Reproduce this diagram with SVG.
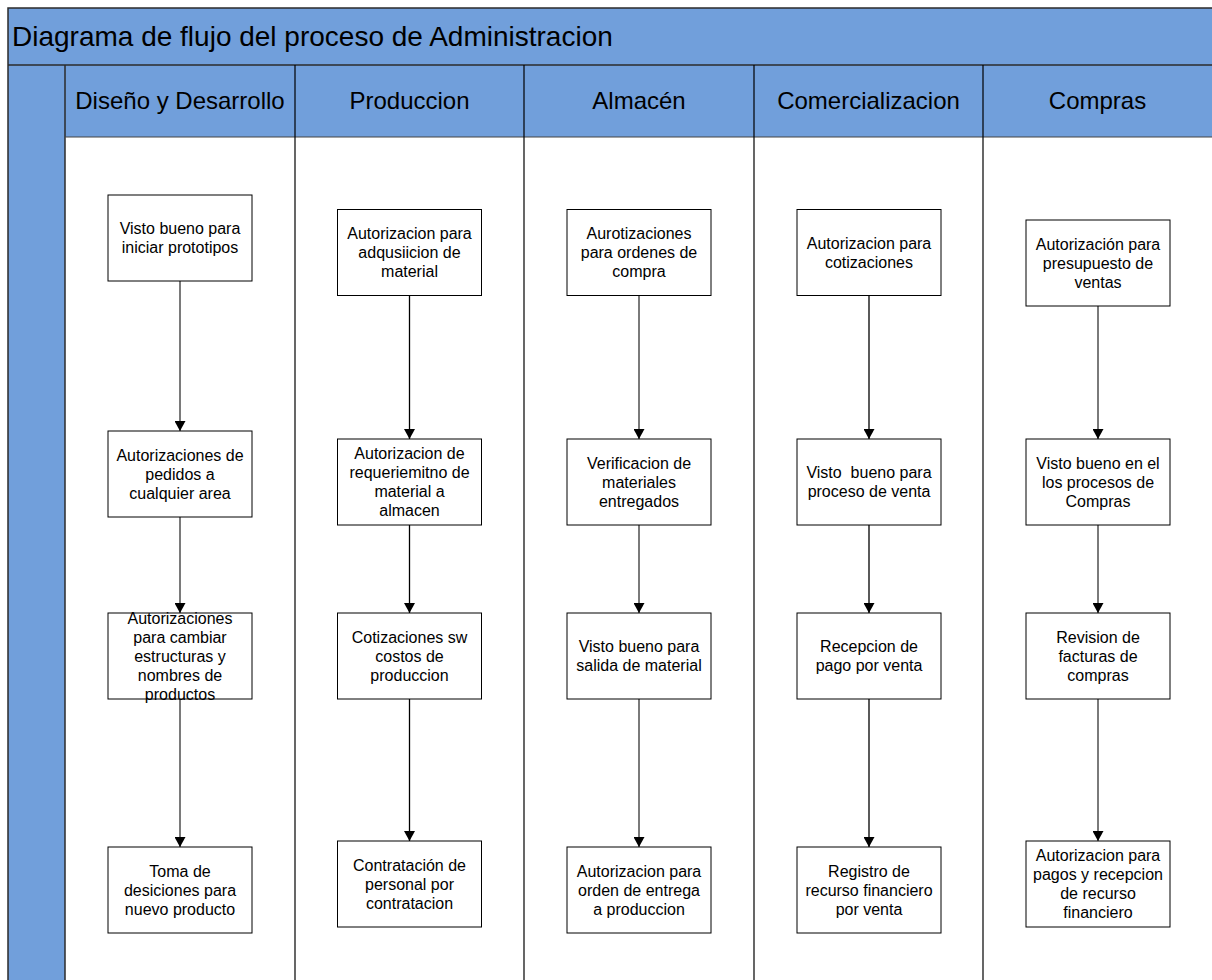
<svg xmlns="http://www.w3.org/2000/svg" width="1212" height="980" viewBox="0 0 1212 980">
<style>
  .band { fill: #719fdb; }
  .frame { fill: none; stroke: #2b2b2b; stroke-width: 1.5; }
  .div { stroke: #000; stroke-width: 1.2; fill: none; }
  .title { font-family: "Liberation Sans", Arial, sans-serif; font-size: 28px; fill: #000; }
  .hdr { font-family: "Liberation Sans", Arial, sans-serif; font-size: 24px; fill: #000; text-anchor: middle; }
  .box rect { fill: #fff; stroke: #000; stroke-width: 1; }
  .box text { font-family: "Liberation Sans", Arial, sans-serif; font-size: 16px; fill: #000; text-anchor: middle; white-space: pre; }
  .gray { stroke: #7a7a7a; stroke-width: 2; fill: none; }
  .blk { stroke: #000; stroke-width: 1.3; fill: none; }
</style>
<defs>
  <marker id="ah" viewBox="0 0 10 11" refX="10" refY="5.5" markerWidth="10" markerHeight="11" markerUnits="userSpaceOnUse" orient="auto">
    <path d="M0,0 L10,5.5 L0,11 z" fill="#000"/>
  </marker>
</defs>
<rect x="0" y="0" width="1212" height="980" fill="#fff"/>
<g id="pool">
  <rect class="band" x="8" y="8" width="1210" height="57"/>
  <rect class="band" x="8" y="65" width="57" height="920"/>
  <rect class="band" x="65" y="65" width="1150" height="72"/>
  <rect class="frame" x="8" y="8" width="1215" height="980"/>
  <line class="frame" x1="8" y1="65" x2="1215" y2="65"/>
  <line class="frame" x1="65" y1="65" x2="65" y2="985"/>
  <line x1="65" y1="137" x2="1215" y2="137" stroke="#444" stroke-width="1.2"/>
  <line class="div" x1="295" y1="65" x2="295" y2="985"/>
  <line class="div" x1="524" y1="65" x2="524" y2="985"/>
  <line class="div" x1="754" y1="65" x2="754" y2="985"/>
  <line class="div" x1="983" y1="65" x2="983" y2="985"/>
  <text class="title" x="12" y="46">Diagrama de flujo del proceso de Administracion</text>
  <text class="hdr" x="180" y="109">Diseño y Desarrollo</text>
  <text class="hdr" x="409.5" y="109">Produccion</text>
  <text class="hdr" x="639" y="109">Almacén</text>
  <text class="hdr" x="868.5" y="109">Comercializacion</text>
  <text class="hdr" x="1097.5" y="109">Compras</text>
</g>
<g id="connectors">
  <line class="gray" x1="180" y1="281" x2="180" y2="431" marker-end="url(#ah)"/>
  <line class="gray" x1="180" y1="517" x2="180" y2="613" marker-end="url(#ah)"/>
  <line class="gray" x1="180" y1="699" x2="180" y2="847" marker-end="url(#ah)"/>
  <line class="blk" x1="409.5" y1="295.5" x2="409.5" y2="439" marker-end="url(#ah)"/>
  <line class="blk" x1="409.5" y1="525" x2="409.5" y2="613" marker-end="url(#ah)"/>
  <line class="blk" x1="409.5" y1="699" x2="409.5" y2="841" marker-end="url(#ah)"/>
  <line class="gray" x1="639" y1="295.5" x2="639" y2="439" marker-end="url(#ah)"/>
  <line class="gray" x1="639" y1="525" x2="639" y2="613" marker-end="url(#ah)"/>
  <line class="gray" x1="639" y1="699" x2="639" y2="847" marker-end="url(#ah)"/>
  <line class="blk" x1="869" y1="295.5" x2="869" y2="439" marker-end="url(#ah)"/>
  <line class="blk" x1="869" y1="525" x2="869" y2="613" marker-end="url(#ah)"/>
  <line class="blk" x1="869" y1="699" x2="869" y2="847" marker-end="url(#ah)"/>
  <line class="gray" x1="1098" y1="306" x2="1098" y2="439" marker-end="url(#ah)"/>
  <line class="gray" x1="1098" y1="525" x2="1098" y2="613" marker-end="url(#ah)"/>
  <line class="gray" x1="1098" y1="699" x2="1098" y2="841" marker-end="url(#ah)"/>
</g>
<g id="d1" class="box"><rect x="108" y="195" width="144" height="86"/>
  <text x="180" y="234">Visto bueno para</text><text x="180" y="253">iniciar prototipos</text></g>
<g id="d2" class="box"><rect x="108" y="431" width="144" height="86"/>
  <text x="180" y="460.5">Autorizaciones de</text><text x="180" y="479.5">pedidos a</text><text x="180" y="498.5">cualquier area</text></g>
<g id="d3" class="box"><rect x="108" y="613" width="144" height="86"/>
  <text x="180" y="623.5">Autorizaciones</text><text x="180" y="642.5">para cambiar</text><text x="180" y="661.5">estructuras y</text><text x="180" y="680.5">nombres de</text><text x="180" y="699.5">productos</text></g>
<g id="d4" class="box"><rect x="108" y="847" width="144" height="86"/>
  <text x="180" y="876.5">Toma de</text><text x="180" y="895.5">desiciones para</text><text x="180" y="914.5">nuevo producto</text></g>

<g id="p1" class="box"><rect x="337.5" y="209.5" width="144" height="86"/>
  <text x="409.5" y="239">Autorizacion para</text><text x="409.5" y="258">adqusiicion de</text><text x="409.5" y="277">material</text></g>
<g id="p2" class="box"><rect x="337.5" y="439" width="144" height="86"/>
  <text x="409.5" y="459">Autorizacion de</text><text x="409.5" y="478">requeriemitno de</text><text x="409.5" y="497">material a</text><text x="409.5" y="516">almacen</text></g>
<g id="p3" class="box"><rect x="337.5" y="613" width="144" height="86"/>
  <text x="409.5" y="642.5">Cotizaciones sw</text><text x="409.5" y="661.5">costos de</text><text x="409.5" y="680.5">produccion</text></g>
<g id="p4" class="box"><rect x="337.5" y="841" width="144" height="86"/>
  <text x="409.5" y="870.5">Contratación de</text><text x="409.5" y="889.5">personal por</text><text x="409.5" y="908.5">contratacion</text></g>

<g id="a1" class="box"><rect x="567" y="209.5" width="144" height="86"/>
  <text x="639" y="239">Aurotizaciones</text><text x="639" y="258">para ordenes de</text><text x="639" y="277">compra</text></g>
<g id="a2" class="box"><rect x="567" y="439" width="144" height="86"/>
  <text x="639" y="468.5">Verificacion de</text><text x="639" y="487.5">materiales</text><text x="639" y="506.5">entregados</text></g>
<g id="a3" class="box"><rect x="567" y="613" width="144" height="86"/>
  <text x="639" y="651.5">Visto bueno para</text><text x="639" y="670.5">salida de material</text></g>
<g id="a4" class="box"><rect x="567" y="847" width="144" height="86"/>
  <text x="639" y="876.5">Autorizacion para</text><text x="639" y="895.5">orden de entrega</text><text x="639" y="914.5">a produccion</text></g>

<g id="c1" class="box"><rect x="797" y="209.5" width="144" height="86"/>
  <text x="869" y="248.5">Autorizacion para</text><text x="869" y="267.5">cotizaciones</text></g>
<g id="c2" class="box"><rect x="797" y="439" width="144" height="86"/>
  <text x="869" y="477.5">Visto  bueno para</text><text x="869" y="496.5">proceso de venta</text></g>
<g id="c3" class="box"><rect x="797" y="613" width="144" height="86"/>
  <text x="869" y="651.5">Recepcion de</text><text x="869" y="670.5">pago por venta</text></g>
<g id="c4" class="box"><rect x="797" y="847" width="144" height="86"/>
  <text x="869" y="876.5">Registro de</text><text x="869" y="895.5">recurso financiero</text><text x="869" y="914.5">por venta</text></g>

<g id="k1" class="box"><rect x="1026" y="220" width="144" height="86"/>
  <text x="1098" y="249.5">Autorización para</text><text x="1098" y="268.5">presupuesto de</text><text x="1098" y="287.5">ventas</text></g>
<g id="k2" class="box"><rect x="1026" y="439" width="144" height="86"/>
  <text x="1098" y="468.5">Visto bueno en el</text><text x="1098" y="487.5">los procesos de</text><text x="1098" y="506.5">Compras</text></g>
<g id="k3" class="box"><rect x="1026" y="613" width="144" height="86"/>
  <text x="1098" y="642.5">Revision de</text><text x="1098" y="661.5">facturas de</text><text x="1098" y="680.5">compras</text></g>
<g id="k4" class="box"><rect x="1026" y="841" width="144" height="86"/>
  <text x="1098" y="861">Autorizacion para</text><text x="1098" y="880">pagos y recepcion</text><text x="1098" y="899">de recurso</text><text x="1098" y="918">financiero</text></g>
</svg>
